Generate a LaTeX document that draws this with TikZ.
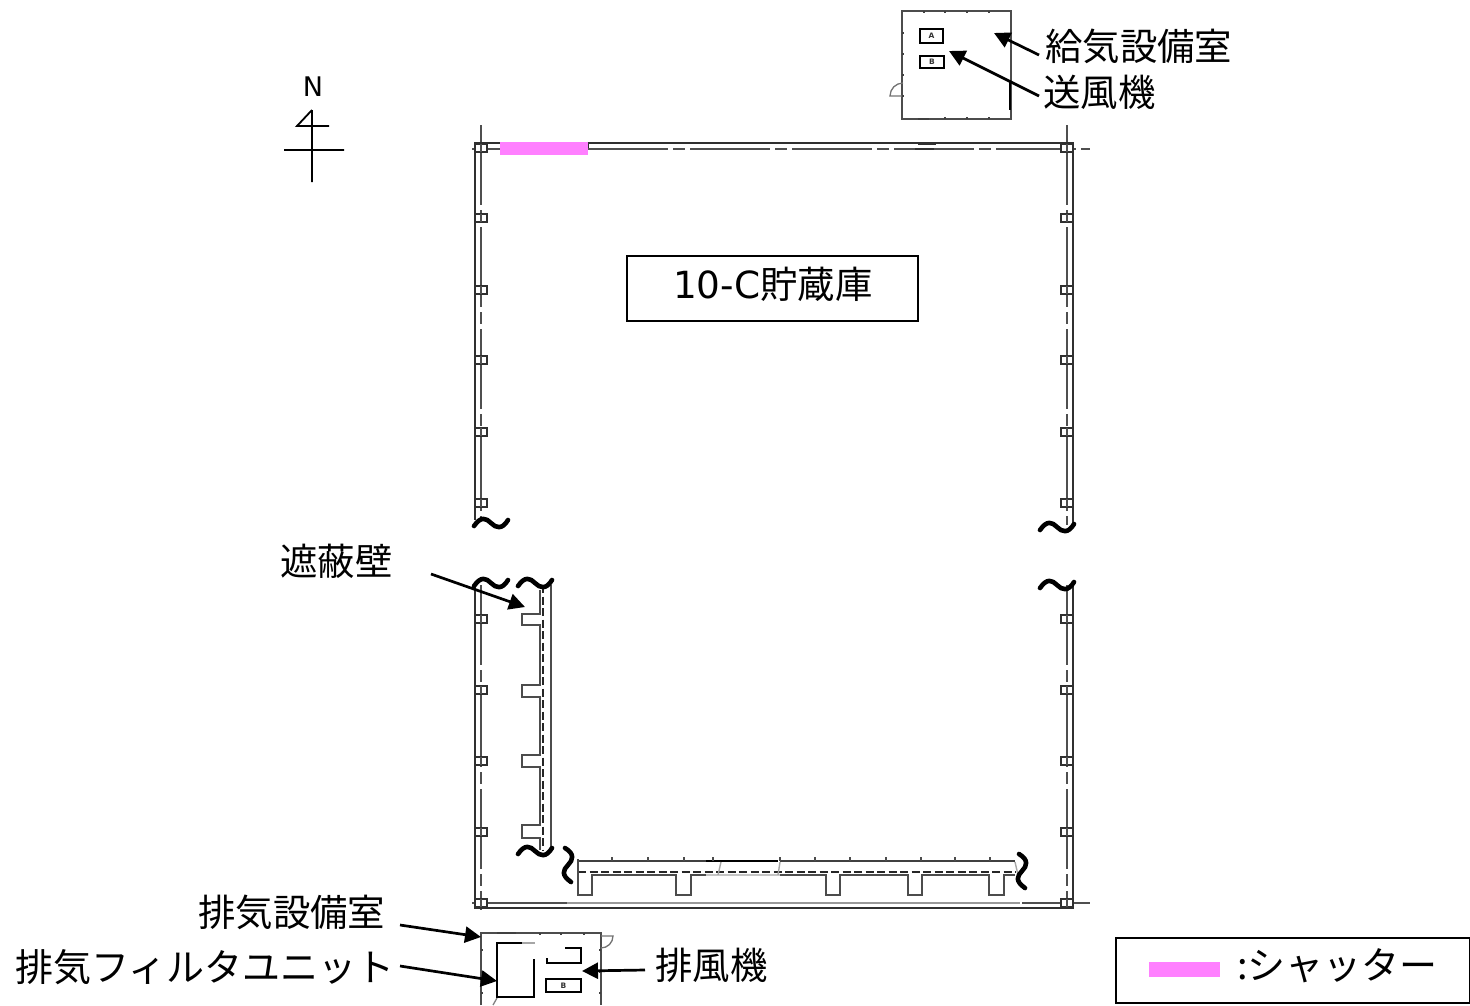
\documentclass[tikz,border=0pt]{standalone}
\usepackage{fontspec}
\setmainfont{DejaVu Sans}
\newfontfamily\jpfont{Noto Sans CJK JP}
\usetikzlibrary{arrows.meta}
\definecolor{shutter}{HTML}{FF80FF}
\definecolor{wallc}{HTML}{303030}
\tikzset{
  lab/.style={inner sep=0pt,font=\jpfont\fontsize{37.4}{40}\selectfont,text=black},
  labwide/.style={inner sep=0pt,font=\jpfont\fontsize{38}{40}\selectfont,text=black},
  arr/.style={line width=2.7pt,black,-{Triangle[length=16pt,width=16pt]}},
  wall/.style={line width=2.2pt,wallc},
  axisl/.style={line width=1.7pt,wallc!85,dash pattern=on 80pt off 5pt on 12pt off 5pt},
  axisplain/.style={line width=1.6pt,wallc!85},
  col/.style={line width=1.8pt,wallc,fill=white},
  shield/.style={line width=1.9pt,black!70},
  shielddash/.style={line width=1.6pt,black!85,dash pattern=on 8pt off 3.5pt},
  equip/.style={line width=2pt,black},
  room/.style={line width=1.5pt,black!70},
  tick/.style={line width=1.5pt,black!75},
  tinytxt/.style={inner sep=0pt,font=\bfseries\fontsize{7.5}{8}\selectfont,text=black!80},
  wave/.pic={\draw[line width=4.6pt,black,line cap=round]
     (-17,3) .. controls (-10,-7) and (-5,-5) .. (0,0)
             .. controls (5,5) and (11,7) .. (17,-3);},
}
\begin{document}
\begin{tikzpicture}[x=1pt,y=-1pt]
\useasboundingbox (0,0) rectangle (1470,1005);
% compass
\node[inner sep=0pt,font=\fontsize{27}{30}\selectfont] (north) at (313,87) {N};
\draw[line width=1.8pt,black] (312,110) -- (312,182) (284,150) -- (344,150) (329,126) -- (297,126) -- (312,110);
% walls
\draw[axisl] (481,125) -- (481,520);
\draw[axisl] (481,585) -- (481,910);
\draw[axisl] (1067,125) -- (1067,525);
\draw[axisl] (1067,585) -- (1067,908);
\draw[wall] (475,520) -- (475,143) -- (500,143);
\draw[wall] (588,143) -- (1073,143) -- (1073,525);
\draw[wall] (588,143) -- (588,149);
\draw[wall] (475,582) -- (475,908) -- (1073,908) -- (1073,585);
\draw[axisl] (472,149) -- (500,149);
\draw[axisl] (588,149) -- (1090,149);
\draw[axisplain,black!40] (472,903) -- (1020,903);
\draw[axisplain] (472,903) -- (567,903);
\draw[axisl] (1022,903) -- (1090,903);
\draw[line width=1.2pt,wallc] (918,144.5) -- (936,144.5) (915,149) -- (934,149);
% columns
\foreach \y in {148,218,290,360,432,503,619,690,761,832,903}{
  \draw[col] (475,\y-4) rectangle (487,\y+4);
  \draw[axisplain] (481,\y-4) -- (481,\y+4);
  \draw[col] (1061,\y-4) rectangle (1073,\y+4);
  \draw[axisplain] (1067,\y-4) -- (1067,\y+4);
}
% shutter
\fill[shutter] (500,142) rectangle (588,155);
% vertical shield wall
\draw[shield] (551,585) -- (551,850);
\draw[shielddash] (543,585) -- (543,850);
\draw[shield] (540,590) -- (540,614) -- (522,614) -- (522,625) -- (540,625)
  -- (540,685) -- (522,685) -- (522,697) -- (540,697)
  -- (540,755) -- (522,755) -- (522,767) -- (540,767)
  -- (540,825) -- (522,825) -- (522,838) -- (540,838) -- (540,850);
% horizontal shield wall
\draw[line width=2pt,black!75] (578,861) -- (706,861);
\draw[line width=2.4pt,black] (706,861) -- (778,861);
\draw[line width=2pt,black!75] (780,861) -- (1015,861);
\draw[shielddash] (578,872) -- (1016,872);
\draw[shield] (578,859) -- (578,895) -- (592,895) -- (592,875) -- (676,875) -- (676,895) -- (691,895) -- (691,875) -- (706,875);
\draw[line width=1.4pt,black!35] (706,875) -- (780,875) (721,862) -- (718,875) (780,862) -- (778,875) (1015,862) -- (1018,875);
\draw[shield] (780,875) -- (826,875) -- (826,895) -- (840,895) -- (840,875)
  -- (908,875) -- (908,895) -- (922,895) -- (922,875)
  -- (989,875) -- (989,895) -- (1004,895) -- (1004,875) -- (1015,875);
\foreach \x in {612,648,684,713,780,815,850,886,921,955,990}{
  \draw[line width=1.5pt,black!70] (\x,857) -- (\x,861);
}
% wave marks
\foreach \px/\py in {491/523,491/583,535/583,1057/527,1057/585,535/851}{
  \pic at (\px,\py) {wave};
}
\pic[rotate=90] at (568,865) {wave};
\pic[rotate=90] at (1022,871) {wave};
% supply room
\draw[room] (902,11) rectangle (1011,119);
\draw[line width=2.2pt,black] (1010,80) -- (1010,110);
\draw[line width=1.3pt,black!55] (903,83) arc[start angle=-90,end angle=-180,radius=13] -- (903,96);
\foreach \y in {33,54,75,96}{ \draw[tick] (902,\y) -- (904,\y); }
\foreach \x in {945,967,989}{ \draw[tick] (\x,117) -- (\x,119); }
\draw[line width=2pt,black!75] (918,118.5) -- (929,118.5);
\foreach \x in {924,945,967,989}{ \draw[tick] (\x,11) -- (\x,13); }
\node[draw=black,line width=1.8pt,minimum width=23pt,minimum height=14pt,inner sep=0pt,tinytxt] (boxa) at (931.5,36) {A};
\node[draw=black,line width=1.8pt,minimum width=24pt,minimum height=12pt,inner sep=0pt,tinytxt] (boxb) at (932,62) {B};
% exhaust room
\draw[room] (481,1005) -- (481,933) -- (601,933) -- (601,1005);
\draw[line width=1.3pt,black!55] (601,936) -- (613,936) arc[start angle=0,end angle=90,radius=12];
\draw[line width=2pt,black!75] (497,932.5) -- (516,932.5);
\foreach \x in {540,561,584}{ \draw[tick] (\x,933) -- (\x,935); }
\foreach \y in {950,972,993}{ \draw[tick] (481,\y) -- (483,\y) (599,\y) -- (601,\y); }
\draw[line width=1.3pt,black!50] (493,1005) -- (497,998);
\draw[line width=2.2pt,black] (522,943) -- (497,943) -- (497,997) -- (534,997) -- (534,959);
\draw[line width=1.2pt,black!35] (522,943) -- (535,943);
\draw[equip] (565,948) -- (581,948) -- (581,963) -- (547,963) -- (547,958);
\node[draw=black,line width=1.8pt,minimum width=35pt,minimum height=13pt,inner sep=0pt,tinytxt] (boxc) at (563.5,985.5) {B};
% labels
\node[lab,anchor=west] (l1) at (1045,46) {給気設備室};
\node[lab,anchor=west] (l2) at (1043,92) {送風機};
\node[lab,anchor=west] (l3) at (280,561) {遮蔽壁};
\node[lab,anchor=west] (l4) at (198,912) {排気設備室};
\node[labwide,anchor=west] (l5) at (15,967) {排気フィルタユニット};
\node[lab,anchor=west] (l6) at (655,965) {排風機};
% connector ends
\coordinate (s1) at (1039,55);  \coordinate (t1) at (994,33);
\coordinate (s2) at (1039,96);  \coordinate (t2) at (949,51);
\coordinate (s3) at (431,574);  \coordinate (t3) at (525,607);
\coordinate (s4) at (400,925);  \coordinate (t4) at (481,937);
\coordinate (s5) at (400,966);  \coordinate (t5) at (497,981);
\coordinate (s6) at (645,970);  \coordinate (t6) at (582,971);
\foreach \n in {1,...,6}{ \draw[arr] (s\n) -- (t\n); }
% title box
\node[draw=black,line width=1.3pt,minimum width=291pt,minimum height=65pt,inner sep=0pt] (title) at (772.5,288.5) {};
\node[inner sep=0pt,anchor=west] (titletxt) at (673,284) {\fontsize{37.4}{40}\selectfont 10-C\jpfont 貯蔵庫};
% legend
\node[draw=black,line width=1.3pt,minimum width=354pt,minimum height=65pt,inner sep=0pt] (legend) at (1293,970.5) {};
\fill[shutter] (1149,962) rectangle (1220,977);
\node[labwide,anchor=west] (legendtxt) at (1237,966) {:シャッター};
\end{tikzpicture}
\end{document}
